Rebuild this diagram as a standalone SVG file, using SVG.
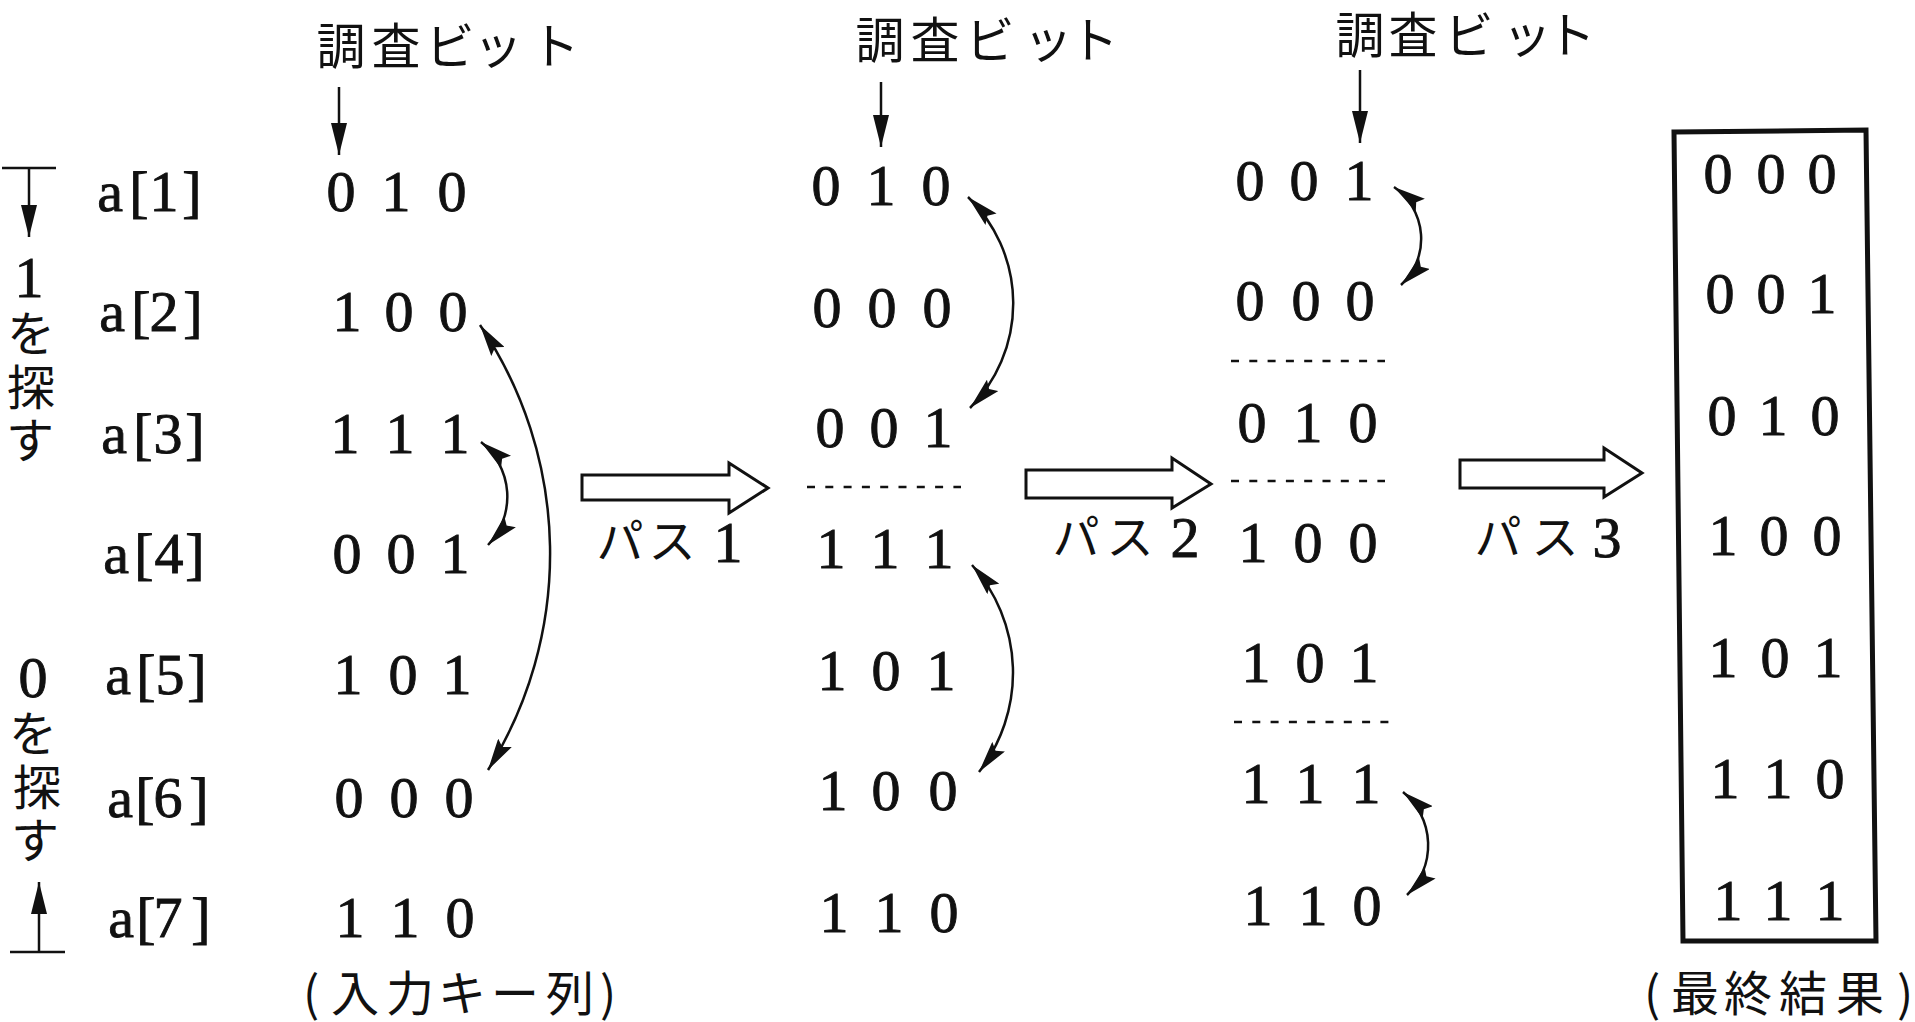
<svg xmlns="http://www.w3.org/2000/svg" width="1915" height="1022" viewBox="0 0 1915 1022">
<style>
.d{font-family:"Liberation Serif","Times New Roman",serif;font-size:58px;fill:#111;stroke:#111;stroke-width:0.9;text-anchor:middle}
.j{font-family:"Noto Sans CJK JP","Noto Sans CJK SC",sans-serif;font-size:49px;fill:#111;text-anchor:middle}
.jv{font-family:"Noto Sans CJK JP","Noto Sans CJK SC",sans-serif;font-size:48px;fill:#111;text-anchor:middle}
.ln{fill:none;stroke:#111;stroke-width:2.5}
.dash{fill:none;stroke:#111;stroke-width:2.5;stroke-dasharray:8 10.3}
.blk{fill:#fff;stroke:#111;stroke-width:3;stroke-linejoin:miter}
</style>
<defs>
<marker id="ah" markerUnits="userSpaceOnUse" markerWidth="32" markerHeight="16" viewBox="0 0 32 16" refX="32" refY="8" orient="auto-start-reverse">
<path d="M0,0 L32,8 L0,16 L5,8 z" fill="#111"/>
</marker>
<marker id="ahd" markerUnits="userSpaceOnUse" markerWidth="32" markerHeight="16" viewBox="0 0 32 16" refX="32" refY="8" orient="auto">
<path d="M0,0 L32,8 L0,16 z" fill="#111"/>
</marker>
</defs>
<rect width="1915" height="1022" fill="#fff"/>

<g id="side-top">
<line class="ln" x1="2" y1="168" x2="56" y2="168"/>
<line class="ln" x1="29" y1="168" x2="29" y2="237" marker-end="url(#ahd)"/>
<text class="d" x="29" y="297">1</text>
<text class="jv" x="31" y="351">を</text>
<text class="jv" x="31" y="405">探</text>
<text class="jv" x="30" y="458">す</text>
</g>
<g id="side-bottom">
<text class="d" x="33" y="697">0</text>
<text class="jv" x="33" y="751">を</text>
<text class="jv" x="37" y="805">探</text>
<text class="jv" x="35" y="858">す</text>
<line class="ln" x1="39" y1="952" x2="39" y2="882" marker-end="url(#ahd)"/>
<line class="ln" x1="10" y1="952" x2="65" y2="952"/>
</g>

<g id="labels">
<text class="d" x="110 139 164 192" y="211">a[1]</text>
<text class="d" x="112 141 164 193" y="331">a[2]</text>
<text class="d" x="114 143 168 195" y="453">a[3]</text>
<text class="d" x="116 144 169 195" y="573">a[4]</text>
<text class="d" x="118 146 170 197" y="694">a[5]</text>
<text class="d" x="120 145 168 199" y="817">a[6]</text>
<text class="d" x="121 146 168 201" y="937">a[7]</text>
</g>

<g id="header1">
<text class="j" x="341 396 450 498 555" y="64">調査ビット</text>
</g>
<g id="header2">
<text class="j" x="880 935 990 1048 1094" y="58">調査ビット</text>
</g>
<g id="header3">
<text class="j" x="1360 1413 1469 1527 1571" y="53">調査ビット</text>
</g>

<g id="input-keys">
<text class="d" x="341 396 452" y="211">010</text>
<text class="d" x="347 399 453" y="331">100</text>
<text class="d" x="345 400 455" y="453">111</text>
<text class="d" x="347 401 455" y="573">001</text>
<text class="d" x="348 403 457" y="694">101</text>
<text class="d" x="349 404 459" y="817">000</text>
<text class="d" x="350 405 460" y="937">110</text>
<text class="jv" x="311 355 410 462 515 570 608" y="1011">(入力キー列)</text>
</g>

<g id="after-pass1">
<text class="d" x="826 881 936" y="205">010</text>
<text class="d" x="827 882 937" y="327">000</text>
<text class="d" x="830 884 938" y="447">001</text>
<line class="dash" x1="807" y1="487" x2="961" y2="487"/>
<text class="d" x="831 885 939" y="568">111</text>
<text class="d" x="832 886 941" y="690">101</text>
<text class="d" x="833 886 943" y="810">100</text>
<text class="d" x="834 889 944" y="932">110</text>
</g>

<g id="after-pass2">
<text class="d" x="1250 1304 1359" y="200">001</text>
<text class="d" x="1250 1306 1360" y="320">000</text>
<line class="dash" x1="1231" y1="361" x2="1385" y2="361"/>
<text class="d" x="1252 1308 1363" y="442">010</text>
<line class="dash" x1="1231" y1="481" x2="1385" y2="481"/>
<text class="d" x="1253 1308 1363" y="562">100</text>
<text class="d" x="1256 1310 1364" y="682">101</text>
<line class="dash" x1="1234" y1="722" x2="1389" y2="722"/>
<text class="d" x="1256 1310 1366" y="803">111</text>
<text class="d" x="1258 1313 1367" y="925">110</text>
</g>

<g id="final-result">
<polygon points="1674,132 1866,130 1876,941 1683,941" fill="none" stroke="#111" stroke-width="5"/>
<text class="d" x="1718 1771 1822" y="193">000</text>
<text class="d" x="1720 1771 1822" y="313">001</text>
<text class="d" x="1722 1773 1825" y="435">010</text>
<text class="d" x="1723 1774 1827" y="555">100</text>
<text class="d" x="1723 1775 1828" y="677">101</text>
<text class="d" x="1725 1778 1830" y="798">110</text>
<text class="d" x="1728 1778 1830" y="920">111</text>
<text class="jv" x="1652 1695 1748 1803 1860 1905" y="1011">(最終結果)</text>
</g>

<g id="pass-labels">
<text class="j" style="font-size:47px" x="620 672" y="558">パス</text>
<text class="d" x="728" y="562">1</text>
<text class="j" style="font-size:47px" x="1076 1130" y="554">パス</text>
<text class="d" x="1185" y="557">2</text>
<text class="j" style="font-size:47px" x="1498 1555" y="554">パス</text>
<text class="d" x="1607" y="557">3</text>
</g>

<g id="connectors">
<line class="ln" x1="339" y1="87" x2="339" y2="155" marker-end="url(#ahd)"/>
<line class="ln" x1="881" y1="82" x2="881" y2="147" marker-end="url(#ahd)"/>
<line class="ln" x1="1360" y1="70" x2="1360" y2="143" marker-end="url(#ahd)"/>
<path class="ln" d="M480,325 A408,408 0 0 1 488,770" marker-start="url(#ah)" marker-end="url(#ah)"/>
<path class="ln" d="M481,442 A70,70 0 0 1 488,545" marker-start="url(#ah)" marker-end="url(#ah)"/>
<path class="ln" d="M968,197 A148,148 0 0 1 970,408" marker-start="url(#ah)" marker-end="url(#ah)"/>
<path class="ln" d="M972,565 A162,162 0 0 1 979,772" marker-start="url(#ah)" marker-end="url(#ah)"/>
<path class="ln" d="M1394,187 A63,63 0 0 1 1401,285" marker-start="url(#ah)" marker-end="url(#ah)"/>
<path class="ln" d="M1403,792 A69,69 0 0 1 1407,895" marker-start="url(#ah)" marker-end="url(#ah)"/>
<path class="blk" d="M582,475 L729,475 L729,463 L768,488 L729,513 L729,500 L582,500 z"/>
<path class="blk" d="M1026,470 L1172,470 L1172,458 L1211,484 L1172,508 L1172,498 L1026,498 z"/>
<path class="blk" d="M1460,460 L1604,460 L1604,448 L1642,473 L1604,497 L1604,488 L1460,488 z"/>
</g>
</svg>
